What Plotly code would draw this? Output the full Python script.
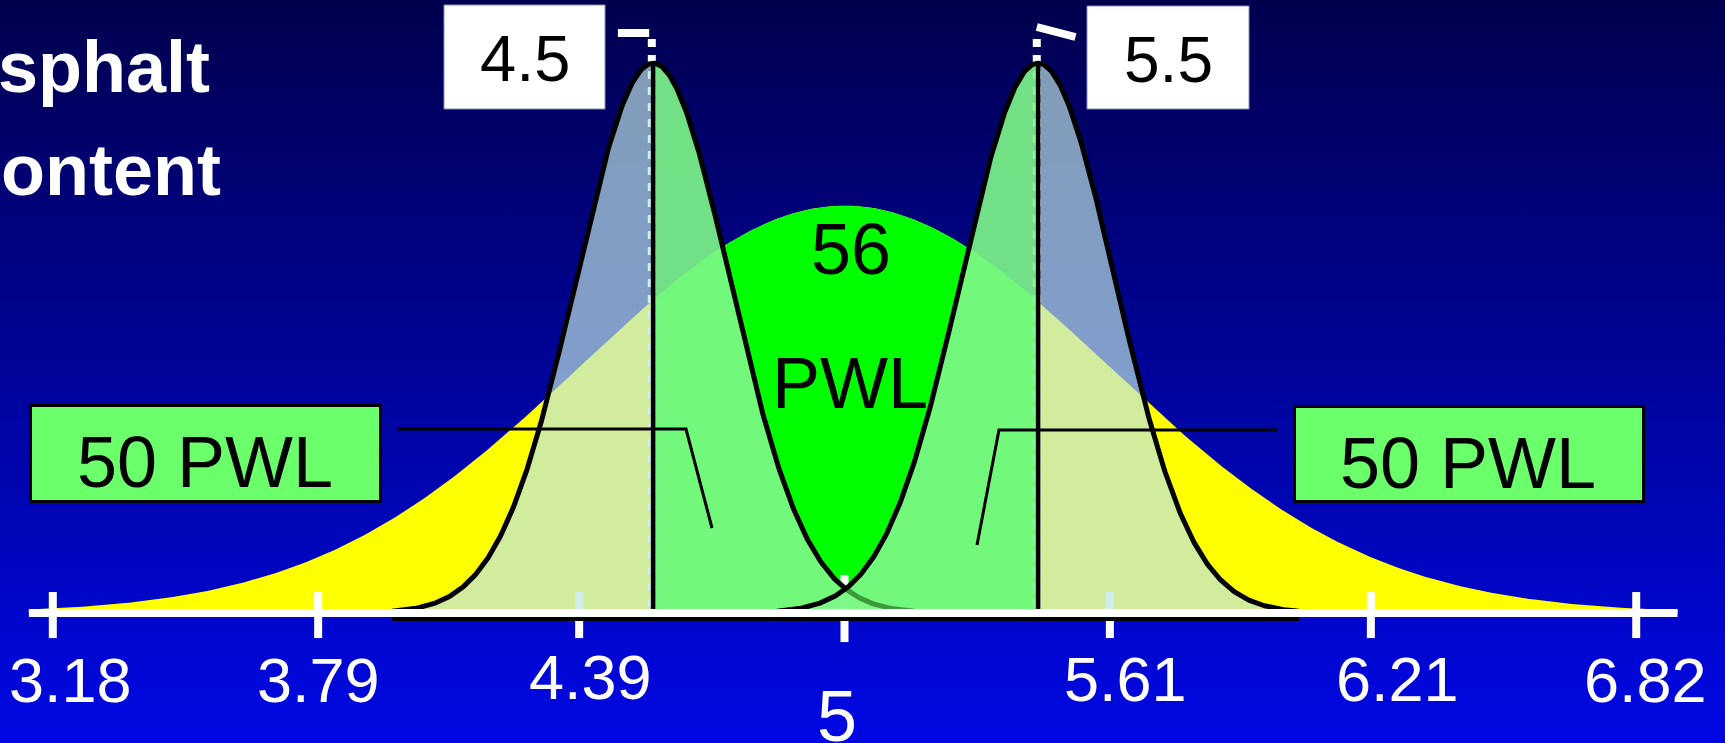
import numpy as np
import plotly.graph_objects as go

# ---------------- data ----------------
tick_values = [3.18, 3.79, 4.39, 5.0, 5.61, 6.21, 6.82]
tick_labels = ["3.18", "3.79", "4.39", "5", "5.61", "6.21", "6.82"]

wide_mean = 5.0          # wide (yellow) distribution
wide_sd = 0.607
wide_peak = 1.0
wide_span = [3.125, 6.915]

narrow_means = [4.56, 5.445]   # two narrow distributions
narrow_sd = 0.177
narrow_peak = 1.35
narrow_half_span = 0.6
narrow_labels = ["4.5", "5.5"]

center_label = ["56", "PWL"]
side_labels = ["50 PWL", "50 PWL"]
title_lines = ["Asphalt", "Content"]

# ---------------- layout geometry ----------------
W, H = 1725, 743
XR = [3.0586, 7.0241]
YR = [-0.319, 1.505]
FONT = "Liberation Sans, Arial, sans-serif"


def px2x(px):
    return XR[0] + px / W * (XR[1] - XR[0])


def py2y(py):
    return YR[1] - py / H * (YR[1] - YR[0])


def wide(x):
    return wide_peak * np.exp(-0.5 * ((x - wide_mean) / wide_sd) ** 2)


def narrow(x, m):
    return narrow_peak * np.exp(-0.5 * ((x - m) / narrow_sd) ** 2)


fig = go.Figure()

# background gradient
fig.add_trace(go.Scatter(
    x=[XR[0], XR[1], XR[1], XR[0], XR[0]],
    y=[YR[0], YR[0], YR[1], YR[1], YR[0]],
    mode="lines", line=dict(width=0), fill="toself",
    fillgradient=dict(type="vertical", start=YR[0], stop=YR[1],
                      colorscale=[[0, "#0008E4"], [1, "#00004E"]]),
    hoverinfo="skip"))

# wide yellow distribution
xw = np.linspace(wide_span[0], wide_span[1], 500)
fig.add_trace(go.Scatter(x=xw, y=wide(xw), mode="lines", line=dict(width=0, color="#FFFF00"),
                         fill="tozeroy", fillcolor="#FFFF00", hoverinfo="skip"))

# green centre region (between the two narrow means)
xg = np.linspace(narrow_means[0], narrow_means[1], 300)
fig.add_trace(go.Scatter(x=xg, y=wide(xg), mode="lines", line=dict(width=0, color="#00FF00"),
                         fill="tozeroy", fillcolor="#00FF00", hoverinfo="skip"))

# tick marks
tx, ty = [], []
for v in tick_values:
    up, dn = (38, 29) if v == wide_mean else (21, 25)
    tx += [v, v, None]
    ty += [up / 407.3, -dn / 407.3, None]
fig.add_trace(go.Scatter(x=tx, y=ty, mode="lines", line=dict(color="white", width=8),
                         hoverinfo="skip"))

# white dashed mean lines + top marks
for i, m in enumerate(narrow_means):
    fig.add_trace(go.Scatter(x=[m - 0.003, m - 0.003], y=[py2y(39), 0], mode="lines",
                             line=dict(color="white", width=8, dash="8px,8px"), hoverinfo="skip"))
bar_l = narrow_means[0]
fig.add_trace(go.Scatter(x=[bar_l - 0.081, bar_l - 0.009], y=[py2y(33), py2y(33)], mode="lines",
                         line=dict(color="white", width=8), hoverinfo="skip"))
bar_r = narrow_means[1]
fig.add_trace(go.Scatter(x=[bar_r - 0.003, bar_r + 0.086], y=[py2y(27), py2y(37)], mode="lines",
                         line=dict(color="white", width=8), hoverinfo="skip"))

# narrow fills (outer half light, inner half green)
OUTER = "rgba(187,228,226,0.69)"
INNER = "rgba(126,247,136,0.906)"
for m in narrow_means:
    xl = np.linspace(m - narrow_half_span, m, 200)
    xr = np.linspace(m, m + narrow_half_span, 200)
    left_col, right_col = (OUTER, INNER) if m < wide_mean else (INNER, OUTER)
    for xs, col in ((xl, left_col), (xr, right_col)):
        fig.add_trace(go.Scatter(x=xs, y=narrow(xs, m), mode="lines", line=dict(width=0, color=col),
                                 fill="tozeroy", fillcolor=col, hoverinfo="skip"))

# outlines
LW = 5
mid = (narrow_means[0] + narrow_means[1]) / 2
m0 = narrow_means[0]
xa = np.linspace(m0 - narrow_half_span, mid, 400)
xb = np.linspace(mid, m0 + narrow_half_span, 100)
fig.add_trace(go.Scatter(x=xb, y=narrow(xb, m0), mode="lines",
                         line=dict(color="#3C9A3C", width=LW), hoverinfo="skip"))
fig.add_trace(go.Scatter(x=xa, y=narrow(xa, m0), mode="lines",
                         line=dict(color="black", width=LW), hoverinfo="skip"))
m1 = narrow_means[1]
xc = np.linspace(m1 - narrow_half_span, m1 + narrow_half_span, 500)
fig.add_trace(go.Scatter(x=xc, y=narrow(xc, m1), mode="lines",
                         line=dict(color="black", width=LW), hoverinfo="skip"))

# black mean lines
for m in narrow_means:
    fig.add_trace(go.Scatter(x=[m, m], y=[-0.006, narrow_peak], mode="lines",
                             line=dict(color="black", width=4.5), hoverinfo="skip"))

# narrow baseline (black) and axis line (white)
fig.add_trace(go.Scatter(x=[narrow_means[0] - narrow_half_span, narrow_means[1] + narrow_half_span],
                         y=[py2y(619), py2y(619)], mode="lines",
                         line=dict(color="black", width=4), hoverinfo="skip"))
fig.add_trace(go.Scatter(x=wide_span, y=[0, 0], mode="lines",
                         line=dict(color="white", width=8), hoverinfo="skip"))

# ---------------- shapes (boxes and leader lines) ----------------
shapes = []


def rect(x0, y0, x1, y1, fill, line_col, lw):
    return dict(type="rect", xref="paper", yref="paper", x0=x0 / W, x1=x1 / W,
                y0=1 - y1 / H, y1=1 - y0 / H, fillcolor=fill,
                line=dict(color=line_col, width=lw), layer="above")


shapes.append(rect(444, 5, 605, 109, "white", "#8890B0", 1))
shapes.append(rect(1087, 6, 1249, 109, "white", "#8890B0", 1))
shapes.append(rect(30.5, 405.5, 380.5, 501.5, "#6CFF6C", "black", 3))
shapes.append(rect(1294.5, 406.5, 1643.5, 501.5, "#6CFF6C", "black", 3))


def path(pts):
    d = "M " + " L ".join(f"{px2x(a):.4f},{py2y(b):.4f}" for a, b in pts)
    return dict(type="path", xref="x", yref="y", path=d, line=dict(color="black", width=3),
                layer="above")


shapes.append(path([(397, 429), (686, 429), (712, 528)]))
shapes.append(path([(1277, 430), (999, 430), (977, 545)]))

# ---------------- annotations ----------------
ann = []


def txt(text, cx, cy, size, color="black", bold=False, xanchor="center", family=FONT):
    t = f"<b>{text}</b>" if bold else text
    return dict(text=t, xref="paper", yref="paper", x=cx / W, y=1 - cy / H,
                xanchor=xanchor, yanchor="middle", showarrow=False,
                font=dict(family=family, size=size, color=color))


# tick labels
label_shift = [18, 0, 11, -7.5, 16, 27, 9]
label_y = [679.5, 679.5, 676.5, 716, 678.5, 678.5, 679.5]
for v, lab, dx, cy in zip(tick_values, tick_labels, label_shift, label_y):
    size = 72 if lab == "5" else 63
    ann.append(dict(text=lab, xref="x", yref="paper", x=v, y=1 - cy / H, xshift=dx,
                    xanchor="center", yanchor="middle", showarrow=False,
                    font=dict(family=FONT, size=size, color="white")))

ann.append(txt(narrow_labels[0], 525, 58.5, 65))
ann.append(txt(narrow_labels[1], 1168, 60, 64))
ann.append(txt(center_label[0], 851, 249, 72))
ann.append(txt(center_label[1], 850, 383, 72))
ann.append(txt(side_labels[0], 205, 462, 72))
ann.append(txt(side_labels[1], 1468, 463, 72))

ann.append(txt(title_lines[0], 212, 67, 72, "white", True, "right"))
ann.append(txt(title_lines[1], 223, 170, 72, "white", True, "right"))

fig.update_layout(
    width=W, height=H, margin=dict(l=0, r=0, t=0, b=0),
    paper_bgcolor="#000090", plot_bgcolor="rgba(0,0,0,0)",
    showlegend=False,
    xaxis=dict(range=XR, visible=False, fixedrange=True),
    yaxis=dict(range=YR, visible=False, fixedrange=True),
    shapes=shapes, annotations=ann,
)

fig.write_html("out.html", config={"displayModeBar": False})
